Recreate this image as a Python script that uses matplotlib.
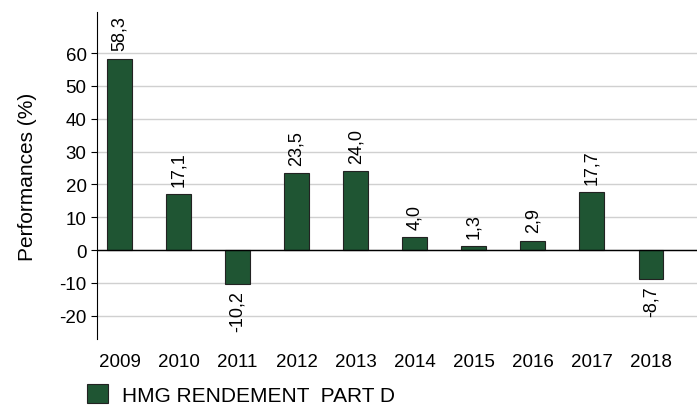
import numpy as np
import matplotlib.pyplot as plt

plt.rcParams['font.family'] = ['Liberation Sans', 'DejaVu Sans']
plt.rcParams['axes.unicode_minus'] = False

# donnees
years = ['2009', '2010', '2011', '2012', '2013', '2014', '2015', '2016', '2017', '2018']
perf = [58.3, 17.1, -10.2, 23.5, 24.0, 4.0, 1.3, 2.9, 17.7, -8.7]
serie = 'HMG RENDEMENT  PART D'

fig = plt.figure(figsize=(6.97, 4.10), dpi=100)
ax = fig.add_axes([97/697, 70/410, 600/697, 327/410])

x = np.arange(len(years))
bars = ax.bar(x, perf, width=0.42, color='#1f5533', edgecolor='#222222', linewidth=0.8,
              label=serie, zorder=3)

for xi, v in zip(x, perf):
    lab = ('%.1f' % v).replace('.', ',')
    if v >= 0:
        ax.text(xi, v + 2.5, lab, rotation=90, ha='center', va='bottom', fontsize=13)
    else:
        ax.text(xi, v - 2.0, lab, rotation=90, ha='center', va='top', fontsize=13)

ax.axhline(0, color='black', linewidth=1, zorder=4)
ax.set_ylim(-27.1, 72.5)
ax.set_xlim(-0.38, 9.78)
ax.set_yticks(range(-20, 61, 10))
ax.yaxis.grid(True, color='#d0d0d0', linewidth=1, zorder=0)
ax.set_xticks(x)
ax.set_xticklabels(years)
ax.tick_params(axis='x', length=0, pad=10, labelsize=13.5)
ax.tick_params(axis='y', length=4, width=0.8, labelsize=13.5)
for s in ['top', 'right', 'bottom']:
    ax.spines[s].set_visible(False)
ax.spines['left'].set_linewidth(0.8)
ax.set_ylabel('Performances (%)', fontsize=15, labelpad=16)

fig.legend(loc='lower left', bbox_to_anchor=(68/697, -0.035), frameon=False, fontsize=15,
           handlelength=1.0, handleheight=1.0, handletextpad=0.7)

fig.savefig('out.png', dpi=100)
